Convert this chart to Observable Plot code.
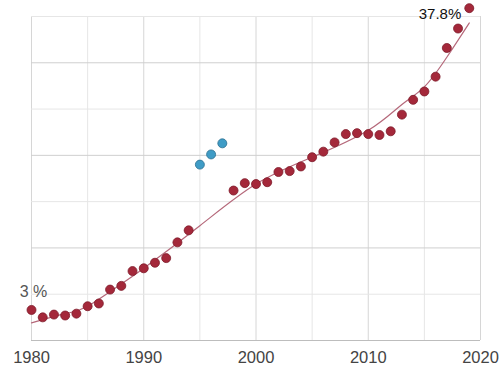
<!DOCTYPE html>
<html>
<head>
<meta charset="utf-8">
<script src="https://cdn.jsdelivr.net/npm/d3@7"></script>
<script src="https://cdn.jsdelivr.net/npm/@observablehq/plot@0.6"></script>
<style>
  html, body { margin: 0; padding: 0; background: #fff; }
  #chart svg { display: block; }
</style>
</head>
<body>
<div id="chart"></div>
<script>
// Main series (red)
const redYears = [1980,1981,1982,1983,1984,1985,1986,1987,1988,1989,1990,1991,1992,1993,1994,
  1998,1999,2000,2001,2002,2003,2004,2005,2006,2007,2008,2009,2010,2011,2012,2013,2014,2015,2016,2017,2018,2019];
const redValues = [3.3,2.5,2.8,2.7,2.9,3.7,4.0,5.5,5.9,7.5,7.8,8.4,8.9,10.6,11.9,
  16.2,17.0,16.9,17.1,18.2,18.3,18.8,19.8,20.4,21.4,22.3,22.4,22.3,22.2,22.6,24.4,26.0,26.9,28.5,31.6,33.7,35.9];
// Secondary series (blue)
const blueYears = [1995,1996,1997];
const blueValues = [19.0,20.1,21.3];
// Trend line
const trendYears = [1980,1983,1985,1988,1990,1995,2000,2005,2010,2013,2015,2017,2019];
const trendValues = [1.9,2.9,3.7,6.1,7.8,12.4,16.9,19.8,22.7,25.5,27.4,30.6,34.3];
// Grid / ticks
const xGrid = [1980,1985,1990,1995,2000,2005,2010,2015,2020];
const xLabels = [1980,1990,2000,2010,2020];
const yGrid = [0,5,10,15,20,25,30,35];
// Annotations
const firstLabel = "3 %";
const lastLabel = "37.8%";

const red = redYears.map((y, i) => ({year: y, value: redValues[i]}));
const blue = blueYears.map((y, i) => ({year: y, value: blueValues[i]}));
const trend = trendYears.map((y, i) => ({year: y, value: trendValues[i]}));

const chart = Plot.plot({
  width: 503,
  height: 372,
  marginLeft: 31,
  marginRight: 23,
  marginTop: 16,
  marginBottom: 32,
  style: {fontFamily: "'Liberation Sans', Arial, sans-serif", background: "#fff"},
  x: {domain: [1980, 2020], label: null},
  y: {domain: [0, 35], axis: null},
  marks: [
    Plot.ruleX(xGrid, {stroke: d => d % 10 === 0 ? "#d6d6d6" : "#e6e6e6", strokeWidth: 1}),
    Plot.ruleY(yGrid, {stroke: d => d === 0 ? "#bdbdbd" : (d % 10 === 0 ? "#cfcfcf" : "#e6e6e6"), strokeWidth: 1}),
    Plot.axisX({ticks: xLabels, tickSize: 0, tickPadding: 11, tickFormat: d => String(d),
      fontSize: 16.5, color: "#444", label: null}),
    Plot.line(trend, {x: "year", y: "value", curve: "natural", stroke: "#b5687a", strokeWidth: 1.2}),
    Plot.dot(red, {x: "year", y: "value", r: 4.5, fill: "#a4283a", stroke: "#7d1a2a", strokeWidth: 0.8}),
    Plot.dot(blue, {x: "year", y: "value", r: 4.5, fill: "#3f9cc6", stroke: "#2b6f8f", strokeWidth: 0.8}),
    Plot.text([red[0]], {x: "year", y: "value", text: () => firstLabel, dx: 2, dy: -13,
      lineAnchor: "bottom", textAnchor: "middle", fontSize: 16, fill: "#555"}),
    Plot.text([red[red.length - 1]], {x: "year", y: "value", text: () => lastLabel, dx: -8, dy: 6,
      lineAnchor: "middle", textAnchor: "end", fontSize: 15, fill: "#111"})
  ]
});
document.getElementById("chart").appendChild(chart);
</script>
</body>
</html>
